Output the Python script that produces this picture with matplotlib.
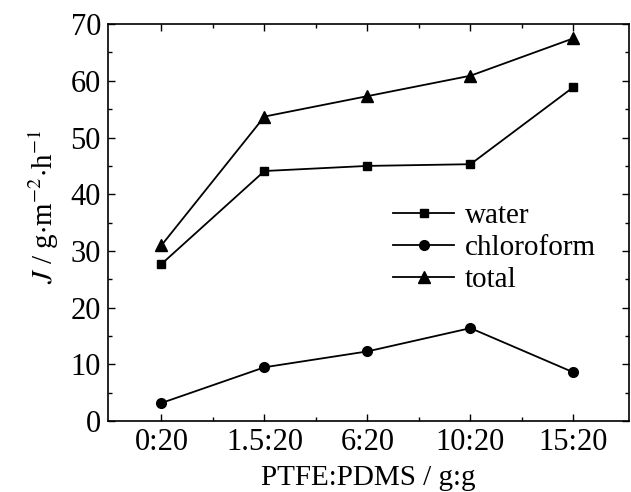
import numpy as np
import matplotlib
matplotlib.use("Agg")
import matplotlib.pyplot as plt

# data
ratios = ["0:20", "1.5:20", "6:20", "10:20", "15:20"]
water = [27.7, 44.1, 45.0, 45.3, 58.9]
chloroform = [3.2, 9.5, 12.3, 16.4, 8.6]
total = [31.0, 53.7, 57.3, 60.9, 67.5]

plt.rcParams["font.family"] = ["Liberation Serif", "DejaVu Serif"]
plt.rcParams["mathtext.fontset"] = "stix"

fig = plt.figure(figsize=(6.31, 4.92), dpi=100)
ax = fig.add_axes([0.171, 0.144, 0.826, 0.807])

x = np.arange(len(ratios))
ax.plot(x, water, "k-", marker="s", ms=6, lw=1.3, label="water")
ax.plot(x, chloroform, "k-", marker="o", ms=7, lw=1.3, label="chloroform")
ax.plot(x, total, "k-", marker="^", ms=8, lw=1.3, label="total")

ax.set_xlim(-0.52, 4.54)
ax.set_ylim(0, 70)
ax.set_xticks(x)
ax.set_xticklabels(ratios)
ax.set_xticks(x[:-1] + 0.5, minor=True)
ax.set_yticks(np.arange(0, 71, 10))
ax.set_yticks(np.arange(5, 70, 10), minor=True)
ax.tick_params(which="both", direction="in", top=True, right=True, labelsize=22, width=1)
ax.tick_params(which="major", length=5, pad=5)
ax.tick_params(which="minor", length=3)
for s in ax.spines.values():
    s.set_linewidth(1.2)

ax.set_xlabel("PTFE:PDMS / g:g", fontsize=21, labelpad=6)
ax.set_ylabel(r"$J$ / g$\cdot$m$^{-2}$$\cdot$h$^{-1}$", fontsize=21, labelpad=7, y=0.54)

ax.legend(loc="center left", bbox_to_anchor=(0.497, 0.436), frameon=False, fontsize=21,
          handlelength=2.1, labelspacing=0.2, handletextpad=0.35)

fig.savefig("out.png", dpi=100)
